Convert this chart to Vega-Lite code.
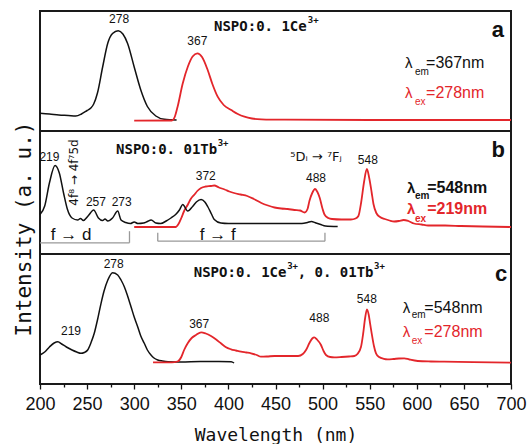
{
  "$schema": "https://vega.github.io/schema/vega-lite/v6.json",
  "padding": {"left": 12, "top": 10, "right": 4, "bottom": 0},
  "spacing": 0,
  "bounds": "flush",
  "config": {"view": {"stroke": "#1a1a1a", "strokeWidth": 2}, "font": "Liberation Sans"},
  "datasets": {
    "spectra": [
      {"panel":"a","curve":"ex","x":200,"y":17.7},{"panel":"a","curve":"ex","x":210,"y":17},{"panel":"a","curve":"ex","x":220,"y":16},{"panel":"a","curve":"ex","x":230,"y":15.5},{"panel":"a","curve":"ex","x":238,"y":15},{"panel":"a","curve":"ex","x":244,"y":17},{"panel":"a","curve":"ex","x":250,"y":20.5},{"panel":"a","curve":"ex","x":254,"y":23},{"panel":"a","curve":"ex","x":257,"y":27},{"panel":"a","curve":"ex","x":261,"y":38},{"panel":"a","curve":"ex","x":266.5,"y":64},{"panel":"a","curve":"ex","x":272,"y":88},{"panel":"a","curve":"ex","x":277,"y":97.5},{"panel":"a","curve":"ex","x":283,"y":100.3},{"panel":"a","curve":"ex","x":288,"y":97},{"panel":"a","curve":"ex","x":293,"y":87.5},{"panel":"a","curve":"ex","x":300,"y":64},{"panel":"a","curve":"ex","x":307,"y":41},{"panel":"a","curve":"ex","x":314,"y":24.5},{"panel":"a","curve":"ex","x":323,"y":15},{"panel":"a","curve":"ex","x":332,"y":11.7},{"panel":"a","curve":"ex","x":345,"y":11},
      {"panel":"a","curve":"em","x":300,"y":10.3},{"panel":"a","curve":"em","x":340,"y":10.5},{"panel":"a","curve":"em","x":343,"y":14},{"panel":"a","curve":"em","x":346,"y":24},{"panel":"a","curve":"em","x":351.5,"y":47.5},{"panel":"a","curve":"em","x":357,"y":64.5},{"panel":"a","curve":"em","x":362,"y":74.5},{"panel":"a","curve":"em","x":367,"y":77.7},{"panel":"a","curve":"em","x":372,"y":74},{"panel":"a","curve":"em","x":378,"y":61},{"panel":"a","curve":"em","x":383,"y":47},{"panel":"a","curve":"em","x":388.6,"y":34.3},{"panel":"a","curve":"em","x":395,"y":26},{"panel":"a","curve":"em","x":403,"y":21},{"panel":"a","curve":"em","x":410,"y":17},{"panel":"a","curve":"em","x":417,"y":14.3},{"panel":"a","curve":"em","x":425,"y":12.5},{"panel":"a","curve":"em","x":435,"y":11.7},{"panel":"a","curve":"em","x":460,"y":11.3},{"panel":"a","curve":"em","x":550,"y":11},{"panel":"a","curve":"em","x":700,"y":11},
      {"panel":"b","curve":"ex","x":200,"y":39.5},{"panel":"b","curve":"ex","x":205,"y":48},{"panel":"b","curve":"ex","x":210,"y":71},{"panel":"b","curve":"ex","x":216,"y":88.5},{"panel":"b","curve":"ex","x":220.5,"y":81},{"panel":"b","curve":"ex","x":225,"y":61},{"panel":"b","curve":"ex","x":229,"y":45},{"panel":"b","curve":"ex","x":234,"y":36},{"panel":"b","curve":"ex","x":240,"y":34},{"panel":"b","curve":"ex","x":243,"y":35.5},{"panel":"b","curve":"ex","x":246,"y":33.5},{"panel":"b","curve":"ex","x":251,"y":38},{"panel":"b","curve":"ex","x":257,"y":44},{"panel":"b","curve":"ex","x":262,"y":36},{"panel":"b","curve":"ex","x":266.5,"y":33.5},{"panel":"b","curve":"ex","x":269,"y":35},{"panel":"b","curve":"ex","x":272,"y":33},{"panel":"b","curve":"ex","x":277,"y":36},{"panel":"b","curve":"ex","x":282.5,"y":43},{"panel":"b","curve":"ex","x":286,"y":34},{"panel":"b","curve":"ex","x":291,"y":31.5},{"panel":"b","curve":"ex","x":296,"y":30.5},{"panel":"b","curve":"ex","x":300,"y":32},{"panel":"b","curve":"ex","x":304,"y":30.5},{"panel":"b","curve":"ex","x":310,"y":31},{"panel":"b","curve":"ex","x":314,"y":32.5},{"panel":"b","curve":"ex","x":318,"y":34},{"panel":"b","curve":"ex","x":323,"y":31},{"panel":"b","curve":"ex","x":328,"y":30.5},{"panel":"b","curve":"ex","x":334,"y":33},{"panel":"b","curve":"ex","x":339,"y":36},{"panel":"b","curve":"ex","x":344,"y":39.5},{"panel":"b","curve":"ex","x":348,"y":44},{"panel":"b","curve":"ex","x":351.5,"y":49.5},{"panel":"b","curve":"ex","x":356.8,"y":43},{"panel":"b","curve":"ex","x":362,"y":47.5},{"panel":"b","curve":"ex","x":366,"y":52},{"panel":"b","curve":"ex","x":371,"y":54.5},{"panel":"b","curve":"ex","x":375,"y":52},{"panel":"b","curve":"ex","x":378,"y":47.5},{"panel":"b","curve":"ex","x":382,"y":40},{"panel":"b","curve":"ex","x":385,"y":34.5},{"panel":"b","curve":"ex","x":392,"y":31},{"panel":"b","curve":"ex","x":400,"y":30.5},{"panel":"b","curve":"ex","x":440,"y":30.5},{"panel":"b","curve":"ex","x":478,"y":30.5},{"panel":"b","curve":"ex","x":484,"y":31.5},{"panel":"b","curve":"ex","x":488,"y":32.5},{"panel":"b","curve":"ex","x":493,"y":31},{"panel":"b","curve":"ex","x":498,"y":29.5},{"panel":"b","curve":"ex","x":503,"y":28},{"panel":"b","curve":"ex","x":516,"y":27.5},
      {"panel":"b","curve":"em","x":300,"y":27},{"panel":"b","curve":"em","x":344,"y":27},{"panel":"b","curve":"em","x":347,"y":30},{"panel":"b","curve":"em","x":350,"y":36},{"panel":"b","curve":"em","x":353,"y":43},{"panel":"b","curve":"em","x":357,"y":49.5},{"panel":"b","curve":"em","x":360,"y":55},{"panel":"b","curve":"em","x":364,"y":59.5},{"panel":"b","curve":"em","x":367,"y":63},{"panel":"b","curve":"em","x":371,"y":66},{"panel":"b","curve":"em","x":376,"y":67.5},{"panel":"b","curve":"em","x":381,"y":68},{"panel":"b","curve":"em","x":385,"y":68.5},{"panel":"b","curve":"em","x":390,"y":66.5},{"panel":"b","curve":"em","x":396,"y":64.5},{"panel":"b","curve":"em","x":401,"y":62.5},{"panel":"b","curve":"em","x":406,"y":61},{"panel":"b","curve":"em","x":413,"y":59.5},{"panel":"b","curve":"em","x":420,"y":58},{"panel":"b","curve":"em","x":427,"y":55},{"panel":"b","curve":"em","x":435,"y":51},{"panel":"b","curve":"em","x":442,"y":48.5},{"panel":"b","curve":"em","x":449,"y":46.5},{"panel":"b","curve":"em","x":456,"y":45.5},{"panel":"b","curve":"em","x":463,"y":45},{"panel":"b","curve":"em","x":470,"y":44},{"panel":"b","curve":"em","x":476,"y":43.5},{"panel":"b","curve":"em","x":481,"y":41.5},{"panel":"b","curve":"em","x":484,"y":45},{"panel":"b","curve":"em","x":486,"y":53},{"panel":"b","curve":"em","x":489,"y":61},{"panel":"b","curve":"em","x":492,"y":65},{"panel":"b","curve":"em","x":494.5,"y":62},{"panel":"b","curve":"em","x":497,"y":56},{"panel":"b","curve":"em","x":500,"y":45},{"panel":"b","curve":"em","x":502,"y":39.5},{"panel":"b","curve":"em","x":506,"y":36},{"panel":"b","curve":"em","x":510,"y":35},{"panel":"b","curve":"em","x":520,"y":34.5},{"panel":"b","curve":"em","x":530,"y":34.5},{"panel":"b","curve":"em","x":535,"y":35.5},{"panel":"b","curve":"em","x":538,"y":38},{"panel":"b","curve":"em","x":541,"y":52},{"panel":"b","curve":"em","x":544,"y":72},{"panel":"b","curve":"em","x":547,"y":85},{"panel":"b","curve":"em","x":549.5,"y":76},{"panel":"b","curve":"em","x":552,"y":62},{"panel":"b","curve":"em","x":554,"y":50},{"panel":"b","curve":"em","x":557,"y":41},{"panel":"b","curve":"em","x":561,"y":37},{"panel":"b","curve":"em","x":566,"y":35},{"panel":"b","curve":"em","x":571,"y":33.5},{"panel":"b","curve":"em","x":576,"y":32.5},{"panel":"b","curve":"em","x":581,"y":33},{"panel":"b","curve":"em","x":586,"y":34},{"panel":"b","curve":"em","x":591,"y":33},{"panel":"b","curve":"em","x":597,"y":30.5},{"panel":"b","curve":"em","x":605,"y":29.5},{"panel":"b","curve":"em","x":612,"y":28.5},{"panel":"b","curve":"em","x":630,"y":28.5},{"panel":"b","curve":"em","x":647,"y":28},{"panel":"b","curve":"em","x":670,"y":27.5},{"panel":"b","curve":"em","x":700,"y":27},
      {"panel":"c","curve":"ex","x":200,"y":29},{"panel":"c","curve":"ex","x":205,"y":32},{"panel":"c","curve":"ex","x":210,"y":37},{"panel":"c","curve":"ex","x":215,"y":41},{"panel":"c","curve":"ex","x":219,"y":42.3},{"panel":"c","curve":"ex","x":223,"y":40},{"panel":"c","curve":"ex","x":228,"y":37},{"panel":"c","curve":"ex","x":234,"y":34},{"panel":"c","curve":"ex","x":239,"y":32},{"panel":"c","curve":"ex","x":243.5,"y":30.7},{"panel":"c","curve":"ex","x":247,"y":31.5},{"panel":"c","curve":"ex","x":250.6,"y":34},{"panel":"c","curve":"ex","x":254,"y":41},{"panel":"c","curve":"ex","x":257.6,"y":50.7},{"panel":"c","curve":"ex","x":261,"y":64},{"panel":"c","curve":"ex","x":264.8,"y":80.7},{"panel":"c","curve":"ex","x":268,"y":93},{"panel":"c","curve":"ex","x":272,"y":104},{"panel":"c","curve":"ex","x":277,"y":111.3},{"panel":"c","curve":"ex","x":282.5,"y":109},{"panel":"c","curve":"ex","x":286,"y":104},{"panel":"c","curve":"ex","x":289.5,"y":97.3},{"panel":"c","curve":"ex","x":293,"y":88},{"panel":"c","curve":"ex","x":296.6,"y":77.3},{"panel":"c","curve":"ex","x":300,"y":67},{"panel":"c","curve":"ex","x":303.7,"y":57.3},{"panel":"c","curve":"ex","x":307,"y":48},{"panel":"c","curve":"ex","x":310.7,"y":40.7},{"panel":"c","curve":"ex","x":314,"y":34},{"panel":"c","curve":"ex","x":317.8,"y":29},{"panel":"c","curve":"ex","x":321,"y":26},{"panel":"c","curve":"ex","x":325,"y":24},{"panel":"c","curve":"ex","x":330,"y":23},{"panel":"c","curve":"ex","x":336,"y":22.3},{"panel":"c","curve":"ex","x":350,"y":22},{"panel":"c","curve":"ex","x":370,"y":22.5},{"panel":"c","curve":"ex","x":390,"y":22.5},{"panel":"c","curve":"ex","x":403,"y":22.3},{"panel":"c","curve":"ex","x":406,"y":21},
      {"panel":"c","curve":"em","x":320,"y":21.7},{"panel":"c","curve":"em","x":340,"y":21.7},{"panel":"c","curve":"em","x":346,"y":22.5},{"panel":"c","curve":"em","x":350,"y":27},{"panel":"c","curve":"em","x":353,"y":34},{"panel":"c","curve":"em","x":356.8,"y":40.7},{"panel":"c","curve":"em","x":361,"y":46},{"panel":"c","curve":"em","x":365.6,"y":49},{"panel":"c","curve":"em","x":371,"y":51.7},{"panel":"c","curve":"em","x":376,"y":50.5},{"panel":"c","curve":"em","x":381.5,"y":48},{"panel":"c","curve":"em","x":387,"y":44.5},{"panel":"c","curve":"em","x":392,"y":40.7},{"panel":"c","curve":"em","x":397,"y":37},{"panel":"c","curve":"em","x":402.8,"y":34.7},{"panel":"c","curve":"em","x":408,"y":33.5},{"panel":"c","curve":"em","x":413.4,"y":32.3},{"panel":"c","curve":"em","x":419,"y":31.5},{"panel":"c","curve":"em","x":424,"y":30.7},{"panel":"c","curve":"em","x":430,"y":29},{"panel":"c","curve":"em","x":434.6,"y":27.3},{"panel":"c","curve":"em","x":441,"y":27.5},{"panel":"c","curve":"em","x":449,"y":28},{"panel":"c","curve":"em","x":463,"y":28},{"panel":"c","curve":"em","x":474,"y":28},{"panel":"c","curve":"em","x":479,"y":30},{"panel":"c","curve":"em","x":482.4,"y":34},{"panel":"c","curve":"em","x":486,"y":41},{"panel":"c","curve":"em","x":489,"y":45.5},{"panel":"c","curve":"em","x":491.2,"y":46.7},{"panel":"c","curve":"em","x":494,"y":44.5},{"panel":"c","curve":"em","x":498.3,"y":39},{"panel":"c","curve":"em","x":501,"y":33},{"panel":"c","curve":"em","x":503.6,"y":29},{"panel":"c","curve":"em","x":508,"y":27},{"panel":"c","curve":"em","x":512.4,"y":26.7},{"panel":"c","curve":"em","x":520,"y":27},{"panel":"c","curve":"em","x":528,"y":27.5},{"panel":"c","curve":"em","x":533.7,"y":28},{"panel":"c","curve":"em","x":537,"y":30},{"panel":"c","curve":"em","x":540.8,"y":37.3},{"panel":"c","curve":"em","x":543,"y":50},{"panel":"c","curve":"em","x":545,"y":65},{"panel":"c","curve":"em","x":547.1,"y":74.7},{"panel":"c","curve":"em","x":549,"y":69},{"panel":"c","curve":"em","x":550.5,"y":60},{"panel":"c","curve":"em","x":552.1,"y":50.7},{"panel":"c","curve":"em","x":554.5,"y":38},{"panel":"c","curve":"em","x":556.7,"y":30.7},{"panel":"c","curve":"em","x":560,"y":27},{"panel":"c","curve":"em","x":565,"y":25.2},{"panel":"c","curve":"em","x":569,"y":24.7},{"panel":"c","curve":"em","x":575,"y":25},{"panel":"c","curve":"em","x":581,"y":25.5},{"panel":"c","curve":"em","x":586.7,"y":25.7},{"panel":"c","curve":"em","x":592,"y":24.5},{"panel":"c","curve":"em","x":601,"y":23},{"panel":"c","curve":"em","x":615,"y":22.5},{"panel":"c","curve":"em","x":629,"y":22.3},{"panel":"c","curve":"em","x":660,"y":21.8},{"panel":"c","curve":"em","x":700,"y":21.3}
    ],
    "peaks": [
      {"panel":"a","x":284,"y":111.7,"t":"278"},{"panel":"a","x":367,"y":90.3,"t":"367"},
      {"panel":"b","x":210,"y":97.3,"t":"219"},{"panel":"b","x":259.4,"y":52.3,"t":"257"},{"panel":"b","x":286.7,"y":52.3,"t":"273"},{"panel":"b","x":376,"y":78,"t":"372"},{"panel":"b","x":493,"y":76.3,"t":"488"},{"panel":"b","x":548,"y":94,"t":"548"},
      {"panel":"c","x":232.9,"y":53.5,"t":"219"},{"panel":"c","x":278.2,"y":119.7,"t":"278"},{"panel":"c","x":369,"y":60,"t":"367"},{"panel":"c","x":496.5,"y":66.3,"t":"488"},{"panel":"c","x":547,"y":84.7,"t":"548"}
    ],
    "hosts": [
      {"panel":"a","x":384.7,"y":104.3,"t":"NSPO:0. 1Ce"},
      {"panel":"b","x":280.7,"y":104,"t":"NSPO:0. 01Tb"},
      {"panel":"c","x":363.2,"y":110.7,"t":"NSPO:0. 1Ce"},{"panel":"c","x":473.5,"y":110.7,"t":", 0. 01Tb"}
    ],
    "sups": [
      {"panel":"a","x":484.2,"y":111.5,"t":"3+"},
      {"panel":"b","x":388.6,"y":111,"t":"3+"},
      {"panel":"c","x":462.4,"y":118,"t":"3+"},{"panel":"c","x":554.6,"y":118,"t":"3+"}
    ],
    "letters": [
      {"panel":"a","x":686,"y":93.7,"t":"a"},{"panel":"b","x":686.5,"y":97.3,"t":"b"},{"panel":"c","x":689.4,"y":103,"t":"c"}
    ],
    "lamG": [
      {"panel":"a","curve":"ex","x":587.5,"y":63,"t":"λ"},{"panel":"a","curve":"em","x":587.5,"y":32.7,"t":"λ"},
      {"panel":"b","curve":"ex","x":589.6,"y":60.7,"t":"λ"},{"panel":"b","curve":"em","x":589.6,"y":40,"t":"λ"},
      {"panel":"c","curve":"ex","x":585,"y":70.7,"t":"λ"},{"panel":"c","curve":"em","x":585,"y":46.7,"t":"λ"}
    ],
    "lamS": [
      {"panel":"a","curve":"ex","x":598,"y":56,"t":"em"},{"panel":"a","curve":"em","x":598,"y":26,"t":"ex"},
      {"panel":"b","curve":"ex","x":598,"y":54.7,"t":"em"},{"panel":"b","curve":"em","x":598,"y":32.3,"t":"ex"},
      {"panel":"c","curve":"ex","x":594.6,"y":65.7,"t":"em"},{"panel":"c","curve":"em","x":594.6,"y":40,"t":"ex"}
    ],
    "lamV": [
      {"panel":"a","curve":"ex","x":609.8,"y":62.7,"t":"=367nm"},{"panel":"a","curve":"em","x":609.8,"y":32.7,"t":"=278nm"},
      {"panel":"b","curve":"ex","x":611,"y":60.7,"t":"=548nm"},{"panel":"b","curve":"em","x":611,"y":40,"t":"=219nm"},
      {"panel":"c","curve":"ex","x":608,"y":70.7,"t":"=548nm"},{"panel":"c","curve":"em","x":608,"y":46.7,"t":"=278nm"}
    ],
    "notesB": [
      {"x":233,"y":19.5,"t":"f → d"},{"x":388.6,"y":19.5,"t":"f → f"}
    ],
    "transB": [
      {"x":493,"y":97.5,"t":"⁵Dᵢ → ⁷Fⱼ"}
    ],
    "vertB": [
      {"x":236,"y":81.5,"t":"4f⁸ → 4f⁷5d"}
    ],
    "brackets": [
      {"x":200,"y":11.2,"x2":295,"y2":11.2},{"x":295,"y":11.2,"x2":295,"y2":22.8},
      {"x":325,"y":12.8,"x2":502.5,"y2":12.8},{"x":325,"y":12.8,"x2":325,"y2":21.2},{"x":502.5,"y":12.8,"x2":502.5,"y2":21.2}
    ]
  },
  "vconcat": [
    {
      "width": 471, "height": 120,
      "encoding": {
        "x": {"field":"x","type":"quantitative","scale":{"domain":[200,700],"nice":false,"zero":false},"axis":null},
        "y": {"field":"y","type":"quantitative","scale":{"domain":[0,120],"nice":false,"zero":false},"axis":null}
      },
      "layer": [
        {"data":{"name":"spectra"},"transform":[{"filter":"datum.panel==='a' && datum.curve==='ex'"}],"mark":{"type":"line","color":"#111111","strokeWidth":1.5,"interpolate":"monotone"}},
        {"data":{"name":"spectra"},"transform":[{"filter":"datum.panel==='a' && datum.curve==='em'"}],"mark":{"type":"line","color":"#e3262b","strokeWidth":1.8,"interpolate":"monotone"}},
        {"data":{"name":"peaks"},"transform":[{"filter":"datum.panel==='a'"}],"mark":{"type":"text","font":"Liberation Sans","fontSize":12,"color":"#111111","align":"center","baseline":"middle"},"encoding":{"text":{"field":"t","type":"nominal"}}},
        {"data":{"name":"hosts"},"transform":[{"filter":"datum.panel==='a'"}],"mark":{"type":"text","font":"DejaVu Sans Mono","fontSize":14,"fontWeight":"bold","color":"#111111","align":"left","baseline":"middle"},"encoding":{"text":{"field":"t","type":"nominal"}}},
        {"data":{"name":"sups"},"transform":[{"filter":"datum.panel==='a'"}],"mark":{"type":"text","font":"DejaVu Sans Mono","fontSize":9,"fontWeight":"bold","color":"#111111","align":"left","baseline":"middle"},"encoding":{"text":{"field":"t","type":"nominal"}}},
        {"data":{"name":"letters"},"transform":[{"filter":"datum.panel==='a'"}],"mark":{"type":"text","font":"Liberation Sans","fontSize":22,"fontWeight":"bold","color":"#111111","align":"center","baseline":"alphabetic"},"encoding":{"text":{"field":"t","type":"nominal"}}},
        {"data":{"name":"lamG"},"transform":[{"filter":"datum.panel==='a'"}],"mark":{"type":"text","font":"Liberation Sans","fontSize":15,"align":"left","baseline":"alphabetic"},"encoding":{"text":{"field":"t","type":"nominal"},"color":{"field":"curve","type":"nominal","scale":{"domain":["ex","em"],"range":["#111111","#e3262b"]},"legend":null}}},
        {"data":{"name":"lamS"},"transform":[{"filter":"datum.panel==='a'"}],"mark":{"type":"text","font":"Liberation Sans","fontSize":10,"align":"left","baseline":"alphabetic"},"encoding":{"text":{"field":"t","type":"nominal"},"color":{"field":"curve","type":"nominal","scale":{"domain":["ex","em"],"range":["#111111","#e3262b"]},"legend":null}}},
        {"data":{"name":"lamV"},"transform":[{"filter":"datum.panel==='a'"}],"mark":{"type":"text","font":"Liberation Sans","fontSize":16,"align":"left","baseline":"alphabetic"},"encoding":{"text":{"field":"t","type":"nominal"},"color":{"field":"curve","type":"nominal","scale":{"domain":["ex","em"],"range":["#111111","#e3262b"]},"legend":null}}}
      ]
    },
    {
      "width": 471, "height": 123,
      "encoding": {
        "x": {"field":"x","type":"quantitative","scale":{"domain":[200,700],"nice":false,"zero":false},"axis":null},
        "y": {"field":"y","type":"quantitative","scale":{"domain":[0,123],"nice":false,"zero":false},
              "axis":{"title":"Intensity (a. u.)","ticks":false,"labels":false,"domain":false,"grid":false,"titleFont":"DejaVu Sans Mono","titleFontSize":21,"titleFontWeight":"normal","titleColor":"#111111","titlePadding":6,"titleY":97.5}}
      },
      "layer": [
        {"data":{"name":"brackets"},"mark":{"type":"rule","color":"#999999","strokeWidth":1.3},"encoding":{"x2":{"field":"x2"},"y2":{"field":"y2"}}},
        {"data":{"name":"spectra"},"transform":[{"filter":"datum.panel==='b' && datum.curve==='em'"}],"mark":{"type":"line","color":"#e3262b","strokeWidth":1.8,"interpolate":"monotone"}},
        {"data":{"name":"spectra"},"transform":[{"filter":"datum.panel==='b' && datum.curve==='ex'"}],"mark":{"type":"line","color":"#111111","strokeWidth":1.5,"interpolate":"monotone"}},
        {"data":{"name":"peaks"},"transform":[{"filter":"datum.panel==='b'"}],"mark":{"type":"text","font":"Liberation Sans","fontSize":12,"color":"#111111","align":"center","baseline":"middle"},"encoding":{"text":{"field":"t","type":"nominal"}}},
        {"data":{"name":"hosts"},"transform":[{"filter":"datum.panel==='b'"}],"mark":{"type":"text","font":"DejaVu Sans Mono","fontSize":14,"fontWeight":"bold","color":"#111111","align":"left","baseline":"middle"},"encoding":{"text":{"field":"t","type":"nominal"}}},
        {"data":{"name":"sups"},"transform":[{"filter":"datum.panel==='b'"}],"mark":{"type":"text","font":"DejaVu Sans Mono","fontSize":9,"fontWeight":"bold","color":"#111111","align":"left","baseline":"middle"},"encoding":{"text":{"field":"t","type":"nominal"}}},
        {"data":{"name":"letters"},"transform":[{"filter":"datum.panel==='b'"}],"mark":{"type":"text","font":"Liberation Sans","fontSize":22,"fontWeight":"bold","color":"#111111","align":"center","baseline":"alphabetic"},"encoding":{"text":{"field":"t","type":"nominal"}}},
        {"data":{"name":"notesB"},"mark":{"type":"text","font":"Liberation Sans","fontSize":17,"color":"#111111","align":"center","baseline":"middle"},"encoding":{"text":{"field":"t","type":"nominal"}}},
        {"data":{"name":"transB"},"mark":{"type":"text","font":"DejaVu Sans","fontSize":13,"color":"#111111","align":"center","baseline":"middle"},"encoding":{"text":{"field":"t","type":"nominal"}}},
        {"data":{"name":"vertB"},"mark":{"type":"text","font":"DejaVu Sans","fontSize":12,"color":"#111111","align":"center","baseline":"middle","angle":270},"encoding":{"text":{"field":"t","type":"nominal"}}},
        {"data":{"name":"lamG"},"transform":[{"filter":"datum.panel==='b'"}],"mark":{"type":"text","font":"Liberation Sans","fontSize":15,"fontWeight":"bold","align":"left","baseline":"alphabetic"},"encoding":{"text":{"field":"t","type":"nominal"},"color":{"field":"curve","type":"nominal","scale":{"domain":["ex","em"],"range":["#111111","#e3262b"]},"legend":null}}},
        {"data":{"name":"lamS"},"transform":[{"filter":"datum.panel==='b'"}],"mark":{"type":"text","font":"Liberation Sans","fontSize":10,"fontWeight":"bold","align":"left","baseline":"alphabetic"},"encoding":{"text":{"field":"t","type":"nominal"},"color":{"field":"curve","type":"nominal","scale":{"domain":["ex","em"],"range":["#111111","#e3262b"]},"legend":null}}},
        {"data":{"name":"lamV"},"transform":[{"filter":"datum.panel==='b'"}],"mark":{"type":"text","font":"Liberation Sans","fontSize":16,"fontWeight":"bold","align":"left","baseline":"alphabetic"},"encoding":{"text":{"field":"t","type":"nominal"},"color":{"field":"curve","type":"nominal","scale":{"domain":["ex","em"],"range":["#111111","#e3262b"]},"legend":null}}}
      ]
    },
    {
      "width": 471, "height": 130,
      "encoding": {
        "x": {"field":"x","type":"quantitative","scale":{"domain":[200,700],"nice":false,"zero":false},
              "axis":{"title":"Wavelength (nm)","values":[200,225,250,275,300,325,350,375,400,425,450,475,500,525,550,575,600,625,650,675,700],
                      "labelExpr":"datum.value % 50 === 0 ? datum.label : ''",
                      "tickSize":{"condition":{"test":"datum.value % 50 === 0","value":5},"value":3},
                      "tickColor":"#111111","tickWidth":1.3,"domain":false,"grid":false,
                      "labelFont":"Liberation Sans","labelFontSize":18,"labelColor":"#111111","labelPadding":6,"labelFlush":false,"labelOverlap":false,
                      "titleFont":"DejaVu Sans Mono","titleFontSize":18,"titleFontWeight":"normal","titleColor":"#111111","titlePadding":13}},
        "y": {"field":"y","type":"quantitative","scale":{"domain":[0,130],"nice":false,"zero":false},"axis":null}
      },
      "layer": [
        {"data":{"name":"spectra"},"transform":[{"filter":"datum.panel==='c' && datum.curve==='ex'"}],"mark":{"type":"line","color":"#111111","strokeWidth":1.5,"interpolate":"monotone"}},
        {"data":{"name":"spectra"},"transform":[{"filter":"datum.panel==='c' && datum.curve==='em'"}],"mark":{"type":"line","color":"#e3262b","strokeWidth":1.8,"interpolate":"monotone"}},
        {"data":{"name":"peaks"},"transform":[{"filter":"datum.panel==='c'"}],"mark":{"type":"text","font":"Liberation Sans","fontSize":12,"color":"#111111","align":"center","baseline":"middle"},"encoding":{"text":{"field":"t","type":"nominal"}}},
        {"data":{"name":"hosts"},"transform":[{"filter":"datum.panel==='c'"}],"mark":{"type":"text","font":"DejaVu Sans Mono","fontSize":14,"fontWeight":"bold","color":"#111111","align":"left","baseline":"middle"},"encoding":{"text":{"field":"t","type":"nominal"}}},
        {"data":{"name":"sups"},"transform":[{"filter":"datum.panel==='c'"}],"mark":{"type":"text","font":"DejaVu Sans Mono","fontSize":9,"fontWeight":"bold","color":"#111111","align":"left","baseline":"middle"},"encoding":{"text":{"field":"t","type":"nominal"}}},
        {"data":{"name":"letters"},"transform":[{"filter":"datum.panel==='c'"}],"mark":{"type":"text","font":"Liberation Sans","fontSize":22,"fontWeight":"bold","color":"#111111","align":"center","baseline":"alphabetic"},"encoding":{"text":{"field":"t","type":"nominal"}}},
        {"data":{"name":"lamG"},"transform":[{"filter":"datum.panel==='c'"}],"mark":{"type":"text","font":"Liberation Sans","fontSize":15,"align":"left","baseline":"alphabetic"},"encoding":{"text":{"field":"t","type":"nominal"},"color":{"field":"curve","type":"nominal","scale":{"domain":["ex","em"],"range":["#111111","#e3262b"]},"legend":null}}},
        {"data":{"name":"lamS"},"transform":[{"filter":"datum.panel==='c'"}],"mark":{"type":"text","font":"Liberation Sans","fontSize":10,"align":"left","baseline":"alphabetic"},"encoding":{"text":{"field":"t","type":"nominal"},"color":{"field":"curve","type":"nominal","scale":{"domain":["ex","em"],"range":["#111111","#e3262b"]},"legend":null}}},
        {"data":{"name":"lamV"},"transform":[{"filter":"datum.panel==='c'"}],"mark":{"type":"text","font":"Liberation Sans","fontSize":16,"align":"left","baseline":"alphabetic"},"encoding":{"text":{"field":"t","type":"nominal"},"color":{"field":"curve","type":"nominal","scale":{"domain":["ex","em"],"range":["#111111","#e3262b"]},"legend":null}}}
      ]
    }
  ]
}
